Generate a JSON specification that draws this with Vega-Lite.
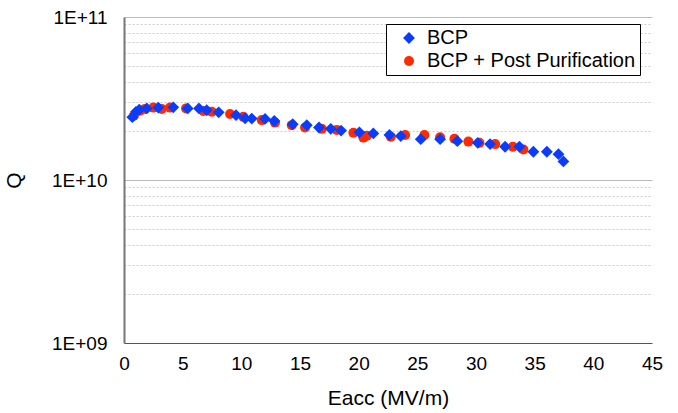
{
  "$schema": "https://vega.github.io/schema/vega-lite/v6.json",
  "autosize": {"type": "none"},
  "width": 528,
  "height": 326,
  "padding": {"left": 124, "top": 17, "right": 26, "bottom": 70},
  "background": "white",
  "config": {
    "view": {"stroke": null},
    "font": "Liberation Sans",
    "axis": {"labelFont": "Liberation Sans", "titleFont": "Liberation Sans", "labelColor": "#000", "titleColor": "#000", "titleFontWeight": "normal"},
    "legend": {"labelFont": "Liberation Sans"}
  },
  "data": {
    "values": [
      {"E": 0.85, "Q": 2.48e10, "s": "BCP + Post Purification"},
      {"E": 1.36, "Q": 2.66e10, "s": "BCP + Post Purification"},
      {"E": 1.79, "Q": 2.73e10, "s": "BCP + Post Purification"},
      {"E": 2.50, "Q": 2.78e10, "s": "BCP + Post Purification"},
      {"E": 3.21, "Q": 2.73e10, "s": "BCP + Post Purification"},
      {"E": 3.92, "Q": 2.78e10, "s": "BCP + Post Purification"},
      {"E": 5.29, "Q": 2.75e10, "s": "BCP + Post Purification"},
      {"E": 6.76, "Q": 2.65e10, "s": "BCP + Post Purification"},
      {"E": 7.48, "Q": 2.62e10, "s": "BCP + Post Purification"},
      {"E": 9.04, "Q": 2.54e10, "s": "BCP + Post Purification"},
      {"E": 10.17, "Q": 2.44e10, "s": "BCP + Post Purification"},
      {"E": 11.74, "Q": 2.33e10, "s": "BCP + Post Purification"},
      {"E": 12.87, "Q": 2.25e10, "s": "BCP + Post Purification"},
      {"E": 14.30, "Q": 2.17e10, "s": "BCP + Post Purification"},
      {"E": 15.43, "Q": 2.10e10, "s": "BCP + Post Purification"},
      {"E": 16.85, "Q": 2.06e10, "s": "BCP + Post Purification"},
      {"E": 18.13, "Q": 2.03e10, "s": "BCP + Post Purification"},
      {"E": 19.55, "Q": 1.95e10, "s": "BCP + Post Purification"},
      {"E": 20.40, "Q": 1.82e10, "s": "BCP + Post Purification"},
      {"E": 20.70, "Q": 1.87e10, "s": "BCP + Post Purification"},
      {"E": 22.74, "Q": 1.84e10, "s": "BCP + Post Purification"},
      {"E": 23.96, "Q": 1.89e10, "s": "BCP + Post Purification"},
      {"E": 25.60, "Q": 1.89e10, "s": "BCP + Post Purification"},
      {"E": 26.94, "Q": 1.83e10, "s": "BCP + Post Purification"},
      {"E": 28.16, "Q": 1.79e10, "s": "BCP + Post Purification"},
      {"E": 29.35, "Q": 1.72e10, "s": "BCP + Post Purification"},
      {"E": 30.29, "Q": 1.69e10, "s": "BCP + Post Purification"},
      {"E": 31.63, "Q": 1.66e10, "s": "BCP + Post Purification"},
      {"E": 33.14, "Q": 1.60e10, "s": "BCP + Post Purification"},
      {"E": 34.04, "Q": 1.54e10, "s": "BCP + Post Purification"},
      {"E": 0.71, "Q": 2.43e10, "s": "BCP"},
      {"E": 1.02, "Q": 2.62e10, "s": "BCP"},
      {"E": 1.30, "Q": 2.70e10, "s": "BCP"},
      {"E": 1.94, "Q": 2.75e10, "s": "BCP"},
      {"E": 2.92, "Q": 2.78e10, "s": "BCP"},
      {"E": 4.20, "Q": 2.79e10, "s": "BCP"},
      {"E": 5.43, "Q": 2.75e10, "s": "BCP"},
      {"E": 6.39, "Q": 2.75e10, "s": "BCP"},
      {"E": 7.05, "Q": 2.68e10, "s": "BCP"},
      {"E": 8.07, "Q": 2.60e10, "s": "BCP"},
      {"E": 9.55, "Q": 2.50e10, "s": "BCP"},
      {"E": 10.32, "Q": 2.39e10, "s": "BCP"},
      {"E": 10.89, "Q": 2.38e10, "s": "BCP"},
      {"E": 12.02, "Q": 2.37e10, "s": "BCP"},
      {"E": 12.81, "Q": 2.30e10, "s": "BCP"},
      {"E": 14.38, "Q": 2.20e10, "s": "BCP"},
      {"E": 15.58, "Q": 2.17e10, "s": "BCP"},
      {"E": 16.62, "Q": 2.10e10, "s": "BCP"},
      {"E": 17.62, "Q": 2.06e10, "s": "BCP"},
      {"E": 18.50, "Q": 2.01e10, "s": "BCP"},
      {"E": 20.06, "Q": 1.96e10, "s": "BCP"},
      {"E": 21.25, "Q": 1.93e10, "s": "BCP"},
      {"E": 22.62, "Q": 1.89e10, "s": "BCP"},
      {"E": 23.59, "Q": 1.86e10, "s": "BCP"},
      {"E": 25.29, "Q": 1.78e10, "s": "BCP"},
      {"E": 26.94, "Q": 1.78e10, "s": "BCP"},
      {"E": 28.41, "Q": 1.73e10, "s": "BCP"},
      {"E": 30.15, "Q": 1.69e10, "s": "BCP"},
      {"E": 31.20, "Q": 1.66e10, "s": "BCP"},
      {"E": 32.48, "Q": 1.60e10, "s": "BCP"},
      {"E": 33.70, "Q": 1.60e10, "s": "BCP"},
      {"E": 34.89, "Q": 1.49e10, "s": "BCP"},
      {"E": 36.04, "Q": 1.49e10, "s": "BCP"},
      {"E": 37.03, "Q": 1.44e10, "s": "BCP"},
      {"E": 37.45, "Q": 1.30e10, "s": "BCP"}
    ]
  },
  "mark": {"type": "point", "filled": true, "opacity": 1, "strokeWidth": 0},
  "encoding": {
    "x": {
      "field": "E", "type": "quantitative",
      "scale": {"domain": [0, 45], "nice": false, "zero": false},
      "axis": {
        "title": "Eacc (MV/m)", "values": [0, 5, 10, 15, 20, 25, 30, 35, 40, 45],
        "grid": false, "ticks": false, "domainColor": "#555", "domainWidth": 1,
        "labelFontSize": 19, "labelPadding": 11, "titleFontSize": 21, "titlePadding": 14,
        "labelFlush": false
      }
    },
    "y": {
      "field": "Q", "type": "quantitative",
      "scale": {"type": "log", "domain": [1e9, 1e11], "nice": false},
      "axis": {
        "title": "Q",
        "values": [1e9, 2e9, 3e9, 4e9, 5e9, 6e9, 7e9, 8e9, 9e9, 1e10, 2e10, 3e10, 4e10, 5e10, 6e10, 7e10, 8e10, 9e10, 1e11],
        "labelExpr": "datum.value == 1e9 ? '1E+09' : datum.value == 1e10 ? '1E+10' : datum.value == 1e11 ? '1E+11' : ''",
        "ticks": false, "grid": true,
        "gridColor": {"condition": {"test": "datum.value == 1e10 || datum.value == 1e11", "value": "#bbbbbb"}, "value": "#cccccc"},
        "gridDash": {"condition": {"test": "datum.value == 1e10 || datum.value == 1e11", "value": []}, "value": [2, 2]},
        "gridWidth": 1,
        "domainColor": "#777", "domainWidth": 2,
        "labelFontSize": 19, "labelPadding": 17, "titleFontSize": 21, "titlePadding": 27,
        "labelFlush": false
      }
    },
    "color": {
      "field": "s", "type": "nominal",
      "scale": {"domain": ["BCP", "BCP + Post Purification"], "range": ["#0a3cff", "#ff2a00"]},
      "legend": {
        "title": null, "orient": "none", "legendX": 262, "legendY": 7,
        "strokeColor": "#000", "fillColor": "white", "padding": 4,
        "labelFontSize": 20, "labelOffset": 8, "rowPadding": 3, "labelLimit": 400,
        "symbolOffset": 9, "symbolSize": 160, "symbolStrokeWidth": 0
      }
    },
    "shape": {
      "field": "s", "type": "nominal",
      "scale": {"domain": ["BCP", "BCP + Post Purification"], "range": ["diamond", "circle"]}
    },
    "size": {
      "field": "s", "type": "nominal",
      "scale": {"domain": ["BCP", "BCP + Post Purification"], "range": [140, 100]},
      "legend": null
    }
  }
}
